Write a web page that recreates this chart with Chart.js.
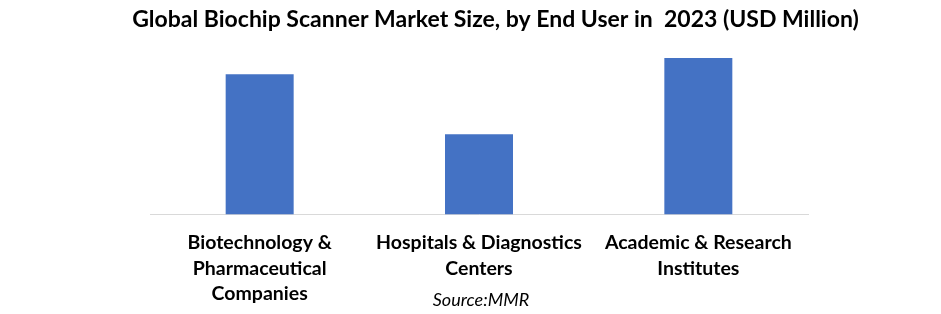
<!DOCTYPE html>
<html><head><meta charset="utf-8">
<script src="https://cdn.jsdelivr.net/npm/chart.js@4/dist/chart.umd.min.js"></script>
<style>html,body{margin:0;padding:0;background:#fff}#wrap{width:941px;height:314px}</style>
</head><body><div id="wrap"><canvas id="c" width="941" height="314"></canvas></div>
<script>
const categories = [
  ["Biotechnology &", "Pharmaceutical", "Companies"],
  ["Hospitals & Diagnostics", "Centers"],
  ["Academic & Research", "Institutes"]
];
const marketSize = [138, 79, 154];
const titleText = "Global Biochip Scanner Market Size, by End User in  2023 (USD Million)";
const sourceText = "Source:MMR";

const sourcePlugin = {
  id: 'source',
  afterDraw(chart) {
    const ctx = chart.ctx;
    ctx.save();
    ctx.font = 'italic 18px Lato';
    ctx.fillStyle = '#000';
    ctx.textAlign = 'center';
    ctx.textBaseline = 'middle';
    ctx.fillText(sourceText, 481, 300);
    ctx.restore();
  }
};

function spacer(w, pos) {
  return {
    position: pos, display: true, min: 0, max: 170,
    grid: { display: false, drawTicks: false }, border: { display: false },
    ticks: { display: false },
    afterFit(s) { s.width = w; }
  };
}

new Chart(document.getElementById('c'), {
  type: 'bar',
  data: { labels: categories, datasets: [{ data: marketSize, backgroundColor: '#4472C4', categoryPercentage: 1, barPercentage: 0.31, yAxisID: 'y' }] },
  options: {
    responsive: false, animation: false,
    layout: { padding: { left: 50, right: 0, top: 0, bottom: 0 } },
    plugins: {
      legend: { display: false }, tooltip: { enabled: false },
      title: { display: true, text: titleText, color: '#000', font: { family: 'Lato', size: 23, weight: 'bold' }, padding: { top: 6, bottom: 8 } }
    },
    scales: {
      y: spacer(100, 'left'),
      yr: spacer(133, 'right'),
      x: {
        grid: { display: false },
        border: { display: true, color: '#d9d9d9', width: 1 },
        ticks: { color: '#000', font: { family: 'Lato', size: 19.5, weight: 'bold', lineHeight: 1.29 }, maxRotation: 0, padding: 8 }
      }
    }
  },
  plugins: [sourcePlugin]
});
</script></body></html>
